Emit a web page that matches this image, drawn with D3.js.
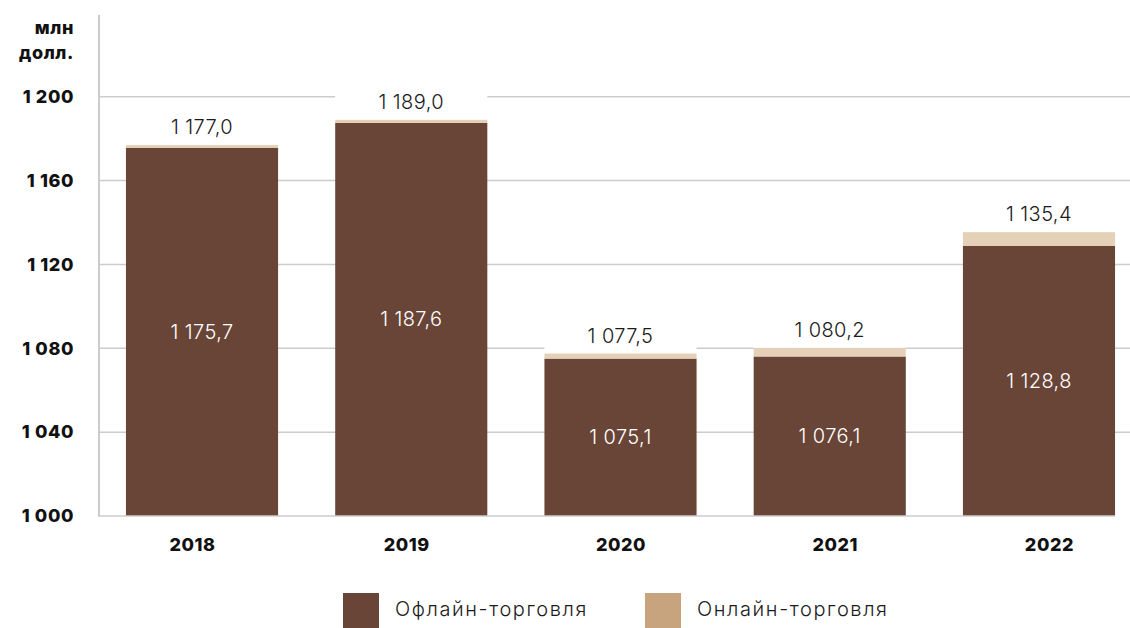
<!DOCTYPE html>
<html>
<head>
<meta charset="utf-8">
<script src="https://cdn.jsdelivr.net/npm/d3@7"></script>
<style>
  html, body { margin: 0; padding: 0; background: #fff; }
  svg { display: block; font-family: Inter, "Noto Sans", sans-serif; }
</style>
</head>
<body>
<svg id="chart" width="1130" height="628"></svg>
<script>
// Retail sales, млн долл.: offline vs online, by year
const years = ["2018", "2019", "2020", "2021", "2022"];
const offline = [1175.7, 1187.6, 1075.1, 1076.1, 1128.8];
const totals = [1177.0, 1189.0, 1077.5, 1080.2, 1135.4];
const online = totals.map((t, i) => +(t - offline[i]).toFixed(1));
const yTicks = [1000, 1040, 1080, 1120, 1160, 1200];
const yTickLabels = ["1 000", "1 040", "1 080", "1 120", "1 160", "1 200"];
const seriesNames = ["Офлайн-торговля", "Онлайн-торговля"];

const colOffline = "#694537";
const colOnlineBar = "#e5d1b8";
const colOnlineKey = "#c8a47e";
const gridCol = "#cccccc";

const fmt = v => {
  const [i, d] = v.toFixed(1).split(".");
  return i.replace(/\B(?=(\d{3})+(?!\d))/g, " ") + "," + d;
};

const svg = d3.select("#chart");

const x = d3.scaleBand()
  .domain(years)
  .range([97.4, 1143.6])
  .paddingInner(0.273)
  .paddingOuter(0.1365);

// category labels sit on their own, slightly wider spacing
const xLabel = d3.scalePoint()
  .domain(years)
  .range([192, 1049]);

const y = d3.scaleLinear()
  .domain([1000, 1239])
  .range([516, 15]);

const boldStyle = sel => sel
  .attr("font-family", "Inter, 'Noto Sans', sans-serif")
  .attr("font-size", 18).attr("font-weight", 800)
  .attr("letter-spacing", 0.6).attr("fill", "#111");

// grid lines
svg.append("g")
  .selectAll("line")
  .data(yTicks.slice(1))
  .join("line")
  .attr("x1", 100).attr("x2", 1130)
  .attr("y1", d => y(d)).attr("y2", d => y(d))
  .attr("stroke", gridCol).attr("stroke-width", 1.5);

// y-axis labels
const yAxis = svg.append("g")
  .attr("transform", "translate(100,0)")
  .call(d3.axisLeft(y).tickValues(yTicks).tickSize(0).tickPadding(26)
    .tickFormat((d, i) => yTickLabels[i]));
yAxis.select(".domain").remove();
yAxis.selectAll("text").call(boldStyle);

// unit label
svg.append("text").attr("x", 74).attr("y", 34).attr("text-anchor", "end")
  .call(boldStyle).text("млн");
svg.append("text").attr("x", 74).attr("y", 59).attr("text-anchor", "end")
  .call(boldStyle).text("долл.");

// bars
const bars = svg.append("g");
years.forEach((yr, i) => {
  const bx = x(yr), bw = x.bandwidth();
  // white backing behind total label
  bars.append("rect")
    .attr("x", bx).attr("width", bw)
    .attr("y", y(totals[i]) - 34).attr("height", 34)
    .attr("fill", "#fff");
  bars.append("rect")
    .attr("x", bx).attr("width", bw)
    .attr("y", y(offline[i])).attr("height", y(1000) - y(offline[i]))
    .attr("fill", colOffline);
  bars.append("rect")
    .attr("x", bx).attr("width", bw)
    .attr("y", y(offline[i] + online[i])).attr("height", y(offline[i]) - y(offline[i] + online[i]))
    .attr("fill", colOnlineBar);
  bars.append("text")
    .attr("x", bx + bw / 2).attr("y", y(totals[i]) - 11)
    .attr("text-anchor", "middle").attr("font-size", 20).attr("font-weight", 300)
    .attr("letter-spacing", 0.4)
    .attr("fill", "#1a1a1a").text(fmt(totals[i]));
  bars.append("text")
    .attr("x", bx + bw / 2).attr("y", (y(offline[i]) + y(1000)) / 2)
    .attr("dy", "0.35em")
    .attr("text-anchor", "middle").attr("font-size", 20).attr("font-weight", 300)
    .attr("letter-spacing", 0.4)
    .attr("fill", "#fff").text(fmt(offline[i]));
});

// axes lines
svg.append("line").attr("x1", 99).attr("x2", 99).attr("y1", 15).attr("y2", 516.5)
  .attr("stroke", gridCol).attr("stroke-width", 2);
svg.append("line").attr("x1", 98).attr("x2", 1115).attr("y1", 516).attr("y2", 516)
  .attr("stroke", gridCol).attr("stroke-width", 1.5);

// x-axis labels
const xAxis = svg.append("g")
  .attr("transform", "translate(0,516)")
  .call(d3.axisBottom(xLabel).tickSize(0).tickPadding(22));
xAxis.select(".domain").remove();
xAxis.selectAll("text").call(boldStyle);

// legend
const legend = svg.append("g");
const keyCols = [colOffline, colOnlineKey];
const keyX = [343, 645];
seriesNames.forEach((name, i) => {
  legend.append("rect").attr("x", keyX[i]).attr("y", 593).attr("width", 36).attr("height", 35)
    .attr("fill", keyCols[i]);
  legend.append("text").attr("x", keyX[i] + 52).attr("y", 614).attr("dy", "0.12em")
    .attr("font-size", 20).attr("font-weight", 300).attr("letter-spacing", 1.6)
    .attr("fill", "#1a1a1a").text(name);
});
</script>
</body>
</html>
